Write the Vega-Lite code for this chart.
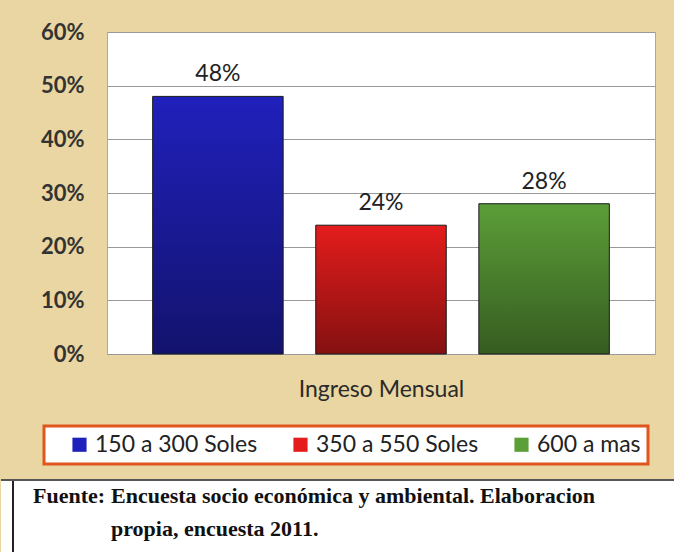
{
  "$schema": "https://vega.github.io/schema/vega-lite/v6.json",
  "background": "#e9d6a2",
  "padding": {"left": 0, "top": 20, "right": 0, "bottom": 0},
  "spacing": 76,
  "config": {"font": "Lato", "legend": {"strokeWidth": 3}},
  "vconcat": [
    {
      "width": 548,
      "height": 322,
      "view": {"fill": "white", "stroke": "#a8a8a8"},
      "data": {"values": [
        {"ingreso": "150 a 300 Soles", "pct": 0.48},
        {"ingreso": "350 a 550 Soles", "pct": 0.24},
        {"ingreso": "600 a mas", "pct": 0.28}
      ]},
      "encoding": {
        "x": {"field": "ingreso", "type": "nominal", "sort": null,
          "scale": {"paddingInner": 0.2, "paddingOuter": 0.28},
          "axis": {"labels": false, "ticks": false, "domain": false, "title": "Ingreso Mensual",
            "titleFont": "Lato", "titleFontSize": 23, "titleFontWeight": "normal", "titleColor": "#2a2a2a", "titlePadding": 24}},
        "y": {"field": "pct", "type": "quantitative",
          "scale": {"domain": [0, 0.6]},
          "axis": {"values": [0, 0.1, 0.2, 0.3, 0.4, 0.5, 0.6], "format": ".0%", "labelFont": "Lato", "labelFontSize": 22,
            "labelFontWeight": "bold", "labelColor": "#333", "labelPadding": 23, "ticks": false, "domain": false,
            "gridColor": "#999", "gridWidth": 1,
            "title": "x", "titleAngle": 0, "titleX": -106, "titleY": 0, "titleAlign": "left", "titleBaseline": "top", "titleOpacity": 0, "titleFontSize": 10}}
      },
      "layer": [
        {
          "mark": {"type": "bar"},
          "encoding": {
            "color": {"field": "ingreso", "type": "nominal", "sort": null,
              "scale": {"domain": ["150 a 300 Soles", "350 a 550 Soles", "600 a mas"], "range": ["#2020bc", "#e41c1c", "#5c9e38"]},
              "legend": {"orient": "none", "legendX": -63, "legendY": 394, "direction": "horizontal",
                "title": "\u00a0", "titleOrient": "left", "titleFontSize": 10, "titlePadding": 17,
                "labelFont": "Lato", "labelFontSize": 23, "labelColor": "#222", "labelLimit": 0, "symbolType": "square", "symbolSize": 200,
                "symbolStrokeWidth": 0, "labelOffset": 4, "columnPadding": 31, "padding": 7,
                "labelExpr": "datum.label == '600 a mas' ? '600 a mas\u00a0\u00a0\u00a0' : datum.label",
                "fillColor": "white", "strokeColor": "#e0561e"}}
          }
        },
        {
          "mark": {"type": "bar", "fill": {"gradient": "linear", "x1": 0, "y1": 0, "x2": 0, "y2": 1,
            "stops": [{"offset": 0, "color": "rgba(0,0,0,0)"}, {"offset": 1, "color": "rgba(0,0,0,0.42)"}]},
            "stroke": "#1a1a1a", "strokeWidth": 1}
        },
        {
          "mark": {"type": "text", "baseline": "bottom", "dy": -10, "font": "Lato", "fontSize": 23, "color": "#222"},
          "encoding": {"text": {"field": "pct", "type": "quantitative", "format": ".0%"}}
        }
      ]
    },
    {
      "width": 568,
      "height": 80,
      "view": {"fill": "white", "stroke": null},
      "resolve": {"scale": {"x": "independent", "y": "independent"}},
      "layer": [
        {
          "data": {"values": [{"box": "caption"}]},
          "mark": {"type": "rect", "color": "white"},
          "encoding": {
            "x": {"datum": "left", "type": "nominal", "scale": {"type": "point", "padding": 0, "domain": ["left", "right"], "range": [-106, 568]}, "axis": null},
            "x2": {"datum": "right"}
          }
        },
        {
          "data": {"values": [{"box": "caption"}]},
          "mark": {"type": "rule", "color": "#222", "strokeWidth": 2},
          "encoding": {
            "x": {"datum": "edge", "type": "nominal", "scale": {"type": "point", "padding": 0, "domain": ["edge"], "range": [-94, -94]}, "axis": null}
          }
        },
        {
          "data": {"values": [{"box": "caption"}]},
          "mark": {"type": "rule", "color": "#555", "strokeWidth": 2},
          "encoding": {
            "x": {"datum": "left", "type": "nominal", "scale": {"type": "point", "padding": 0, "domain": ["left", "right"], "range": [-106, 568]}, "axis": null},
            "x2": {"datum": "right"},
            "y": {"datum": "top", "type": "nominal", "scale": {"type": "point", "padding": 0, "domain": ["top"], "range": [1, 1]}, "axis": null}
          }
        },
        {
          "data": {"values": [
            {"col": "lbl", "line": "1", "txt": "Fuente:"},
            {"col": "txt", "line": "1", "txt": "Encuesta socio económica y ambiental. Elaboracion"},
            {"col": "txt", "line": "2", "txt": "propia, encuesta 2011."}
          ]},
          "mark": {"type": "text", "align": "left", "baseline": "middle", "font": "Liberation Serif", "fontWeight": "bold", "fontSize": 22, "color": "#111"},
          "encoding": {
            "x": {"field": "col", "type": "nominal", "scale": {"type": "point", "padding": 0, "domain": ["lbl", "txt"], "range": [-74, 4]}, "axis": null},
            "y": {"field": "line", "type": "nominal", "scale": {"type": "point", "padding": 0, "domain": ["1", "2"], "range": [17, 50]}, "axis": null},
            "text": {"field": "txt", "type": "nominal"}
          }
        }
      ]
    }
  ]
}
